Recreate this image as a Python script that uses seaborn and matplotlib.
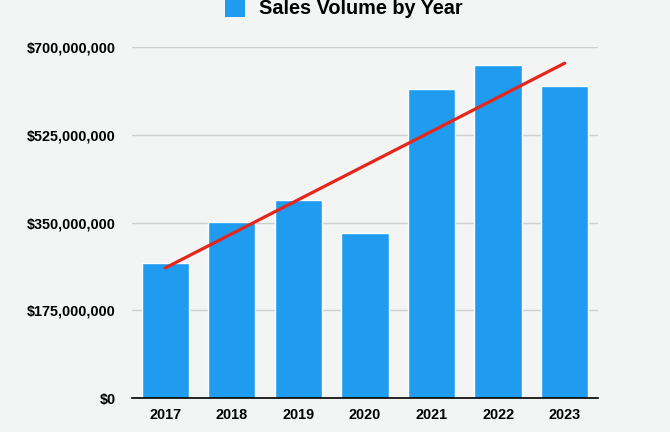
import numpy as np
import pandas as pd
import matplotlib
matplotlib.use("Agg")
import matplotlib.pyplot as plt
from matplotlib.patches import Patch
from matplotlib.ticker import FuncFormatter
import seaborn as sns

# Données
years = ["2017", "2018", "2019", "2020", "2021", "2022", "2023"]
volumes = [269e6, 351e6, 395e6, 329e6, 616e6, 664e6, 622e6]
y_ticks = [0, 175e6, 350e6, 525e6, 700e6]

BLUE = "#1f9bf0"
RED = "#e5261b"
BG = "#f3f4f4"

sns.set_theme(style="white")
plt.rcParams["font.family"] = ["Liberation Sans", "DejaVu Sans"]

df = pd.DataFrame({"year": years, "volume": volumes})

fig = plt.figure(figsize=(6.7, 4.32), dpi=100, facecolor=BG)
ax = fig.add_axes([0.197, 0.0787, 0.6955, 0.8123])
ax.set_facecolor(BG)

sns.barplot(data=df, x="year", y="volume", color=BLUE, saturation=1,
            width=0.71, ax=ax, zorder=2)

# Droite de tendance (régression linéaire)
sns.regplot(x=np.arange(len(years)), y=np.array(volumes), scatter=False,
            ci=None, truncate=True, color=RED, ax=ax,
            line_kws={"linewidth": 2.3, "zorder": 3})

ax.set_xlim(-0.5, len(years) - 0.5)
ax.set_ylim(0, 700e6)
ax.set_yticks(y_ticks)
ax.yaxis.set_major_formatter(FuncFormatter(lambda v, _: f"${v:,.0f}"))
ax.grid(axis="y", color="#cfcfcf", linewidth=1, zorder=0)
ax.set_axisbelow(True)

for side in ["top", "right", "left"]:
    ax.spines[side].set_visible(False)
ax.spines["bottom"].set_color("black")
ax.spines["bottom"].set_linewidth(1.2)
ax.spines["bottom"].set_zorder(4)

ax.tick_params(axis="y", length=0, pad=11.5, labelsize=10.4, labelcolor="black")
ax.tick_params(axis="x", length=0, pad=7, labelsize=10.4, labelcolor="black")
for lbl in ax.get_xticklabels() + ax.get_yticklabels():
    lbl.set_fontweight("bold")
ax.set_xlabel("")
ax.set_ylabel("")

handles = [Patch(facecolor=BLUE, edgecolor="none", label="Sales Volume by Year")]
leg = fig.legend(handles=handles, loc="center", bbox_to_anchor=(0.513, 0.98),
                 frameon=False, handlelength=1.0, handleheight=1.0,
                 handletextpad=0.7, prop={"size": 14.3, "weight": "bold"})
for t in leg.get_texts():
    t.set_color("black")

fig.savefig("out.png", dpi=100, facecolor=BG)
